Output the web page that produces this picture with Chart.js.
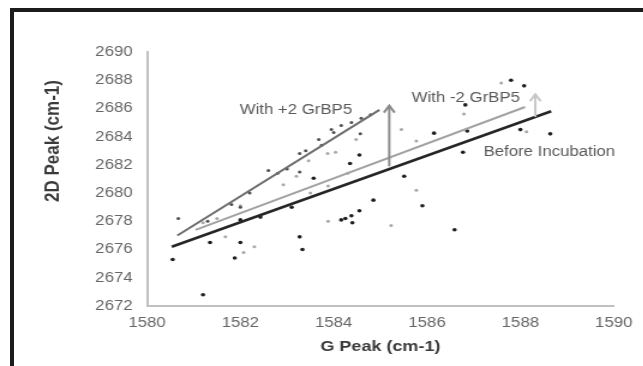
<!DOCTYPE html>
<html>
<head>
<meta charset="utf-8">
<script src="https://cdn.jsdelivr.net/npm/chart.js@4.4.0/dist/chart.umd.min.js"></script>
<style>
    html, body { margin: 0; padding: 0; background: #fff; overflow: hidden; }
    /* moldura preta do quadro original */
    #quadro { position: absolute; left: 10px; top: 8px; width: 700px; height: 400px;
              border-top: 4px solid #1c1c1c; border-left: 4px solid #1c1c1c; }
    /* a figura original foi esticada na horizontal */
    #caixa { position: absolute; left: 0; top: 0; width: 536px; height: 366px;
             transform: scaleX(1.2); transform-origin: 0 0; }
</style>
</head>
<body>
<div id="caixa"><canvas id="grafico" width="536" height="366"></canvas></div>
<div id="quadro"></div>
<script>
// Before Incubation (pontos pretos)
let gBefore = [1580.55, 1581.2, 1581.35, 1581.88, 1582.0, 1582.0, 1582.43, 1583.1, 1583.27, 1583.33,
               1583.57, 1584.16, 1584.25, 1584.38, 1584.4, 1584.55, 1584.35, 1584.55, 1584.85, 1585.51,
               1585.9, 1586.15, 1586.59, 1586.77, 1586.82, 1586.86, 1587.8, 1588.08, 1588.0, 1588.64];
let dBefore = [2675.3, 2672.8, 2676.5, 2675.4, 2676.5, 2678.1, 2678.3, 2679.0, 2676.9, 2676.0,
               2681.05, 2678.1, 2678.2, 2678.4, 2677.9, 2678.75, 2682.1, 2682.7, 2679.5, 2681.2,
               2679.1, 2684.25, 2677.4, 2682.9, 2686.25, 2684.4, 2688.0, 2687.6, 2684.5, 2684.2];

// With +2 GrBP5 (cinza escuro)
let gPlus = [1580.67, 1581.3, 1581.81, 1582.0, 1582.2, 1582.6, 1582.8, 1583.0, 1583.27, 1583.27,
             1583.4, 1583.68, 1583.74, 1583.95, 1584.0, 1584.16, 1584.38, 1584.59, 1584.79, 1584.57];
let dPlus = [2678.2, 2678.0, 2679.2, 2679.0, 2680.0, 2681.6, 2681.4, 2681.7, 2681.5, 2682.8,
             2683.0, 2683.8, 2683.4, 2684.5, 2684.3, 2684.8, 2685.0, 2685.3, 2685.55, 2684.2];

// With -2 GrBP5 (cinza claro)
let gMinus = [1581.2, 1581.5, 1581.68, 1582.0, 1582.07, 1582.3, 1582.92, 1583.2, 1583.46, 1583.5,
              1583.87, 1583.88, 1583.88, 1584.04, 1584.3, 1584.48, 1585.23, 1585.45, 1585.77, 1585.77,
              1586.79, 1587.59, 1588.13];
let dMinus = [2677.9, 2678.2, 2676.9, 2679.1, 2675.8, 2676.2, 2680.6, 2681.2, 2682.3, 2680.0,
              2682.8, 2680.5, 2678.0, 2682.9, 2681.4, 2683.8, 2677.7, 2684.5, 2683.7, 2680.2,
              2685.6, 2687.8, 2684.35];

// linhas de tendência (início e fim)
let trendBeforeX = [1580.53, 1588.66];
let trendBeforeY = [2676.2, 2685.8];
let trendPlusX = [1580.65, 1584.98];
let trendPlusY = [2677.0, 2685.9];
let trendMinusX = [1581.04, 1588.1];
let trendMinusY = [2677.4, 2686.1];

// setas de deslocamento
let arrowX = [1585.19, 1588.32];
let arrowFrom = [2681.9, 2685.4];
let arrowTo = [2686.2, 2687.0];

// rótulos dos eixos e das séries
let xTicks = [1580, 1582, 1584, 1586, 1588, 1590];
let yTicks = [2672, 2674, 2676, 2678, 2680, 2682, 2684, 2686, 2688, 2690];
let seriesLabels = ["With +2 GrBP5", "With -2 GrBP5", "Before Incubation"];
let labelX = [1583.19, 1586.83, 1588.62];
let labelY = [2685.9, 2686.7, 2682.9];

const fonte = '"Liberation Sans", Arial, sans-serif';

function pares(xs, ys) {
    return xs.map((v, i) => ({ x: v, y: ys[i] }));
}

function linha(xs, ys, cor, largura) {
    return {
        data: pares(xs, ys),
        showLine: true,
        borderColor: cor,
        borderWidth: largura,
        pointRadius: 0,
        fill: false
    };
}

function pontos(xs, ys, cor, raio) {
    return {
        data: pares(xs, ys),
        backgroundColor: cor,
        borderColor: cor,
        borderWidth: 0,
        pointRadius: raio
    };
}

// setas, textos das séries e título do eixo y
const extras = {
    id: 'extras',
    afterDatasetsDraw(chart) {
        const ctx = chart.ctx;
        const sx = chart.scales.x;
        const sy = chart.scales.y;
        const cores = ['#8a8a8a', '#c6c6c6'];

        for (let i = 0; i < arrowX.length; i++) {
            const px = sx.getPixelForValue(arrowX[i]);
            const p0 = sy.getPixelForValue(arrowFrom[i]);
            const p1 = sy.getPixelForValue(arrowTo[i]);
            ctx.save();
            ctx.strokeStyle = cores[i];
            ctx.lineWidth = 2;
            ctx.beginPath();
            ctx.moveTo(px, p0);
            ctx.lineTo(px, p1);
            ctx.stroke();
            ctx.beginPath();
            ctx.moveTo(px - 4.5, p1 + 7);
            ctx.lineTo(px, p1);
            ctx.lineTo(px + 4.5, p1 + 7);
            ctx.stroke();
            ctx.restore();
        }

        ctx.save();
        ctx.font = '14px ' + fonte;
        ctx.fillStyle = '#5a5a5a';
        ctx.textAlign = 'center';
        ctx.textBaseline = 'middle';
        for (let i = 0; i < seriesLabels.length; i++) {
            ctx.fillText(seriesLabels[i], sx.getPixelForValue(labelX[i]), sy.getPixelForValue(labelY[i]));
        }
        ctx.restore();

        ctx.save();
        ctx.translate(44, 141);
        ctx.rotate(-Math.PI / 2);
        ctx.font = 'bold 17px ' + fonte;
        ctx.fillStyle = '#3a3a3a';
        ctx.textAlign = 'center';
        ctx.textBaseline = 'middle';
        ctx.fillText('2D Peak (cm-1)', 0, 0);
        ctx.restore();
    }
};

const ctx1 = document.querySelector("#grafico");

new Chart(ctx1, {
    type: 'scatter',
    data: {
        datasets: [
            linha(trendBeforeX, trendBeforeY, '#262626', 2.5),
            linha(trendPlusX, trendPlusY, '#6e6e6e', 2),
            linha(trendMinusX, trendMinusY, '#a2a2a2', 2),
            pontos(gBefore, dBefore, '#1e1e1e', 1.8),
            pontos(gPlus, dPlus, '#505050', 1.5),
            pontos(gMinus, dMinus, '#a8a8a8', 1.5)
        ]
    },
    options: {
        responsive: false,
        animation: false,
        layout: { padding: { top: 52, right: 15, bottom: 0, left: 0 } },
        plugins: {
            legend: { display: false },
            tooltip: { enabled: false }
        },
        scales: {
            x: {
                type: 'linear',
                min: 1580,
                max: 1590,
                afterBuildTicks: (s) => { s.ticks = xTicks.map(v => ({ value: v })); },
                afterFit: (s) => { s.height = 60; },
                grid: { display: false, drawTicks: false },
                border: { color: '#c0c0c0', width: 2 },
                ticks: {
                    padding: 9,
                    color: '#666666',
                    font: { family: fonte, size: 14 },
                    callback: (v) => String(v)
                },
                title: {
                    display: true,
                    text: 'G Peak (cm-1)',
                    color: '#3a3a3a',
                    font: { family: fonte, size: 15, weight: 'bold' },
                    padding: { top: 0, bottom: 10 }
                }
            },
            y: {
                type: 'linear',
                min: 2672,
                max: 2690,
                afterBuildTicks: (s) => { s.ticks = yTicks.map(v => ({ value: v })); },
                afterFit: (s) => { s.width = 122.5; },
                grid: { display: false, drawTicks: false },
                border: { color: '#c0c0c0', width: 2 },
                ticks: {
                    padding: 12,
                    color: '#666666',
                    font: { family: fonte, size: 14 },
                    callback: (v) => String(v)
                }
            }
        }
    },
    plugins: [extras]
});
</script>
</body>
</html>
